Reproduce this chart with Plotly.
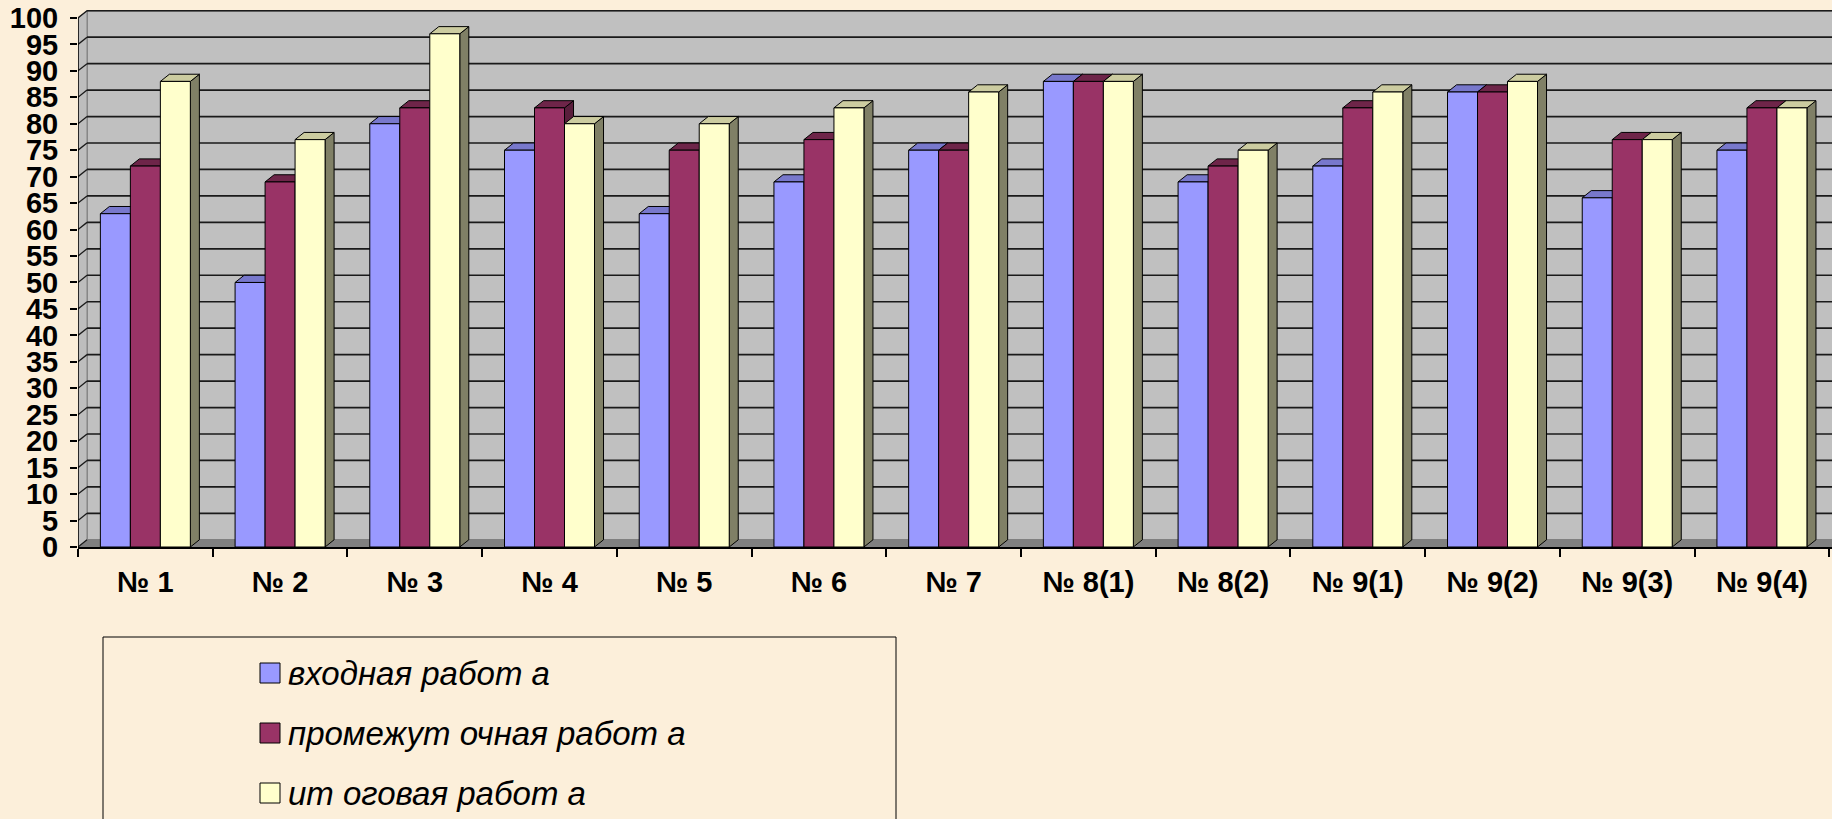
import plotly.graph_objects as go

# ---------------- data ----------------
categories = ["№ 1", "№ 2", "№ 3", "№ 4", "№ 5", "№ 6", "№ 7",
              "№ 8(1)", "№ 8(2)", "№ 9(1)", "№ 9(2)", "№ 9(3)", "№ 9(4)"]
series_names = ["входная работ а", "промежут очная работ а", "ит оговая работ а"]
entry_work = [63, 50, 80, 75, 63, 69, 75, 88, 69, 72, 86, 66, 75]
midterm_work = [72, 69, 83, 83, 75, 77, 75, 88, 72, 83, 86, 77, 83]
final_work = [88, 77, 97, 80, 80, 83, 86, 88, 75, 86, 88, 77, 83]
y_ticks = list(range(0, 101, 5))

series = [entry_work, midterm_work, final_work]

# ---------------- geometry / style ----------------
W, H = 1832, 819
ML, MR, MT, MB = 78, 0, 10, 272
X0, X1 = -0.5, 12.52
Y0, Y1 = 0, 101.5
BARGAP = 0.332
DX, DY = 0.067, 1.36          # 3-D depth offset in data units
PAPER = "#FCEFDA"
WALL = "#C0C0C0"

front_col = ["#9999FF", "#993366", "#FFFFCC"]
top_col = ["#7878CC", "#6E2549", "#CCCCA0"]
side_col = ["#5E5EA0", "#5A1E3C", "#808066"]

n = len(categories)
xs = list(range(n))
bw = (1 - BARGAP) / 3

fig = go.Figure()
for k, vals in enumerate(series):
    fig.add_trace(go.Bar(
        x=xs, y=vals, name=series_names[k], showlegend=False,
        marker=dict(color=front_col[k], line=dict(color="#000000", width=1)),
    ))

shapes = []
XR = X1 + 1.0
# floor
shapes.append(dict(type="path", xref="x", yref="y", layer="below",
                   path=f"M {X0},0 L {XR},0 L {XR + DX},{DY} L {X0 + DX},{DY} Z",
                   fillcolor="#808080", line=dict(width=0)))
# back wall
shapes.append(dict(type="rect", xref="x", yref="y", layer="below",
                   x0=X0 + DX, x1=XR, y0=DY, y1=100 + DY,
                   fillcolor=WALL, line=dict(color="#808080", width=1.5)))
# left side wall
shapes.append(dict(type="path", xref="x", yref="y", layer="below",
                   path=f"M {X0},0 L {X0 + DX},{DY} L {X0 + DX},{100 + DY} L {X0},100 Z",
                   fillcolor="#BDBDBD", line=dict(color="#808080", width=1)))
# gridlines on back wall and side wall
for v in y_ticks[1:]:
    shapes.append(dict(type="line", xref="x", yref="y", layer="below",
                       x0=X0 + DX, x1=XR, y0=v + DY, y1=v + DY,
                       line=dict(color="#1A1A1A", width=1.7)))
for v in y_ticks:
    shapes.append(dict(type="line", xref="x", yref="y", layer="below",
                       x0=X0, x1=X0 + DX, y0=v, y1=v + DY,
                       line=dict(color="#1A1A1A", width=1.3)))
# front y-axis line
shapes.append(dict(type="line", xref="x", yref="y", layer="above",
                   x0=X0, x1=X0, y0=0, y1=100, line=dict(color="#000000", width=1.5)))

# 3-D faces of the bars (top + side), derived from the data
for i in xs:
    for k, vals in enumerate(series):
        h = vals[i]
        L = i - (1 - BARGAP) / 2 + k * bw
        R = L + bw
        shapes.append(dict(type="path", xref="x", yref="y", layer="between",
                           path=f"M {R},0 L {R + DX},{DY} L {R + DX},{h + DY} L {R},{h} Z",
                           fillcolor=side_col[k], line=dict(color="#000000", width=1)))
        shapes.append(dict(type="path", xref="x", yref="y", layer="between",
                           path=f"M {L},{h} L {R},{h} L {R + DX},{h + DY} L {L + DX},{h + DY} Z",
                           fillcolor=top_col[k], line=dict(color="#000000", width=1)))

# ---------------- custom legend ----------------
pw, ph = W - ML - MR, H - MT - MB


def px_x(px):
    return (px - ML) / pw


def px_y(py):
    return (H - MB - py) / ph


shapes.append(dict(type="rect", xref="paper", yref="paper", layer="above",
                   x0=px_x(103), x1=px_x(896), y0=px_y(637), y1=px_y(840),
                   fillcolor="rgba(0,0,0,0)", line=dict(color="#000000", width=1)))
annotations = []
row_y = [673, 733, 793]
for k, name in enumerate(series_names):
    cy = row_y[k]
    shapes.append(dict(type="rect", xref="paper", yref="paper", layer="above",
                       x0=px_x(260), x1=px_x(280), y0=px_y(cy + 10), y1=px_y(cy - 10),
                       fillcolor=front_col[k], line=dict(color="#000000", width=1)))
    annotations.append(dict(xref="paper", yref="paper", x=px_x(286), y=px_y(cy),
                            xanchor="left", yanchor="middle", showarrow=False, text=name,
                            font=dict(family="Liberation Sans Narrow, Liberation Sans, Arial",
                                      size=33, style="italic", color="#000000")))

fig.update_layout(
    width=W, height=H,
    margin=dict(l=ML, r=MR, t=MT, b=MB, pad=0, autoexpand=False),
    paper_bgcolor=PAPER, plot_bgcolor=PAPER,
    barmode="group", bargap=BARGAP, bargroupgap=0,
    shapes=shapes, annotations=annotations,
    showlegend=False,
    xaxis=dict(range=[X0, X1], tickmode="array", tickvals=xs, ticktext=categories,
               ticks="", showgrid=False, zeroline=False, automargin=False,
               showline=True, linecolor="#000000", linewidth=1.5,
               tickfont=dict(family="Liberation Sans, Arial", size=29, color="#000000",
                             weight="bold"),
               ticklabelstandoff=8,
               minor=dict(tickmode="array", tickvals=[i - 0.5 for i in range(n + 1)],
                          ticks="outside", ticklen=8, tickcolor="#000000", tickwidth=1.5,
                          showgrid=False)),
    yaxis=dict(range=[Y0, Y1], tickmode="array", tickvals=y_ticks,
               ticks="outside", ticklen=7, tickcolor="#000000", tickwidth=1.5,
               showgrid=False, zeroline=False, showline=False, automargin=False,
               tickfont=dict(family="Liberation Sans, Arial", size=29, color="#000000",
                             weight="bold"),
               ticklabelstandoff=6),
)

fig.write_html(
    "out.html",
    config={"displayModeBar": False},
    post_script="document.body.style.margin='0';document.body.style.overflow='hidden';",
)
